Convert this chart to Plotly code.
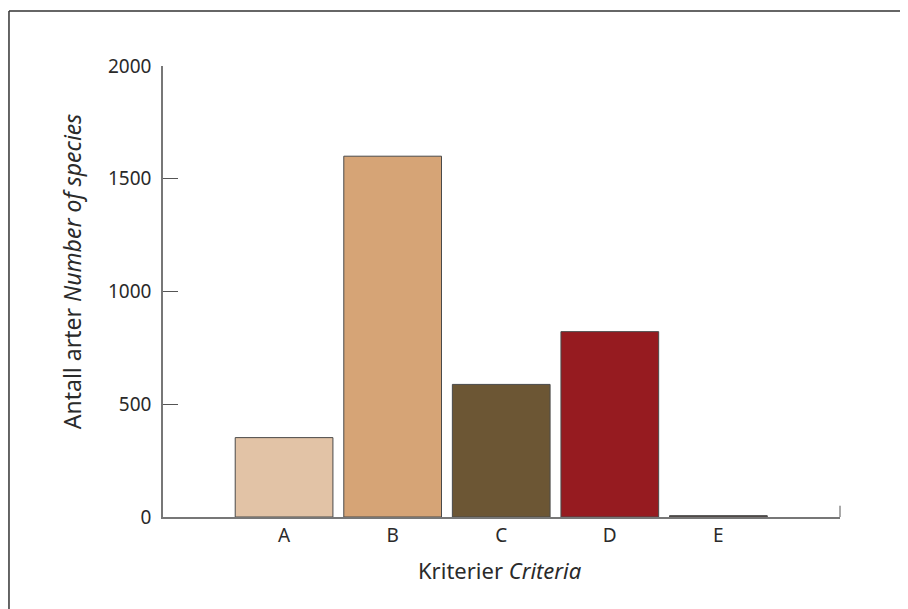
import plotly.graph_objects as go

categories = ["A", "B", "C", "D", "E"]
values = [352, 1600, 588, 822, 6]
colors = ["#E2C3A6", "#D6A476", "#6C5634", "#961B20", "#5A4A44"]
y_ticks = [0, 500, 1000, 1500, 2000]
x_title = "Kriterier <i>Criteria</i>"
y_title = "Antall arter <i>Number of species</i>"

font_family = "Noto Sans"
text_color = "#2a2a2a"

fig = go.Figure()
fig.add_trace(go.Bar(
    x=list(range(len(categories))),
    y=values,
    width=0.9,
    marker=dict(color=colors, line=dict(color="#4a4a4a", width=1)),
    showlegend=False,
))

fig.update_layout(
    width=908, height=609,
    margin=dict(l=155, r=76, t=58, b=100),
    paper_bgcolor="white", plot_bgcolor="white",
    font=dict(family=font_family, color=text_color, size=19),
    xaxis=dict(
        range=[-1.115, 5.12],
        tickmode="array",
        tickvals=list(range(len(categories))),
        ticktext=categories,
        ticks="",
        showline=True, linecolor="#777777", linewidth=1.5,
        showgrid=False, zeroline=False,
        tickfont=dict(size=19),
    ),
    yaxis=dict(
        range=[0, 2000],
        tickmode="array",
        tickvals=y_ticks,
        ticks="inside", ticklen=15, tickcolor="#555555", tickwidth=1,
        showline=True, linecolor="#777777", linewidth=1.5,
        showgrid=False, zeroline=False,
        tickfont=dict(size=19),
        ticklabelstandoff=6,
    ),
    annotations=[
        dict(text=x_title, xref="paper", yref="paper", x=0.498, y=-0.1175,
             xanchor="center", yanchor="middle", showarrow=False,
             font=dict(size=22, color=text_color)),
        dict(text=y_title, xref="paper", yref="paper", x=-0.1344, y=0.545,
             xanchor="center", yanchor="middle", showarrow=False, textangle=-90,
             font=dict(size=23, color=text_color)),
    ],
    shapes=[
        dict(type="line", xref="paper", yref="paper", x0=-0.2275, x1=-0.2275, y0=1.122, y1=-0.3,
             line=dict(color="#333333", width=1.5)),
        dict(type="line", xref="paper", yref="paper", x0=-0.2275, x1=1.2, y0=1.122, y1=1.122,
             line=dict(color="#333333", width=1.5)),
        dict(type="line", xref="paper", yref="paper", x0=1, x1=1, y0=0, y1=0.025,
             line=dict(color="#555555", width=1)),
    ],
)

fig.write_html("out.html")
